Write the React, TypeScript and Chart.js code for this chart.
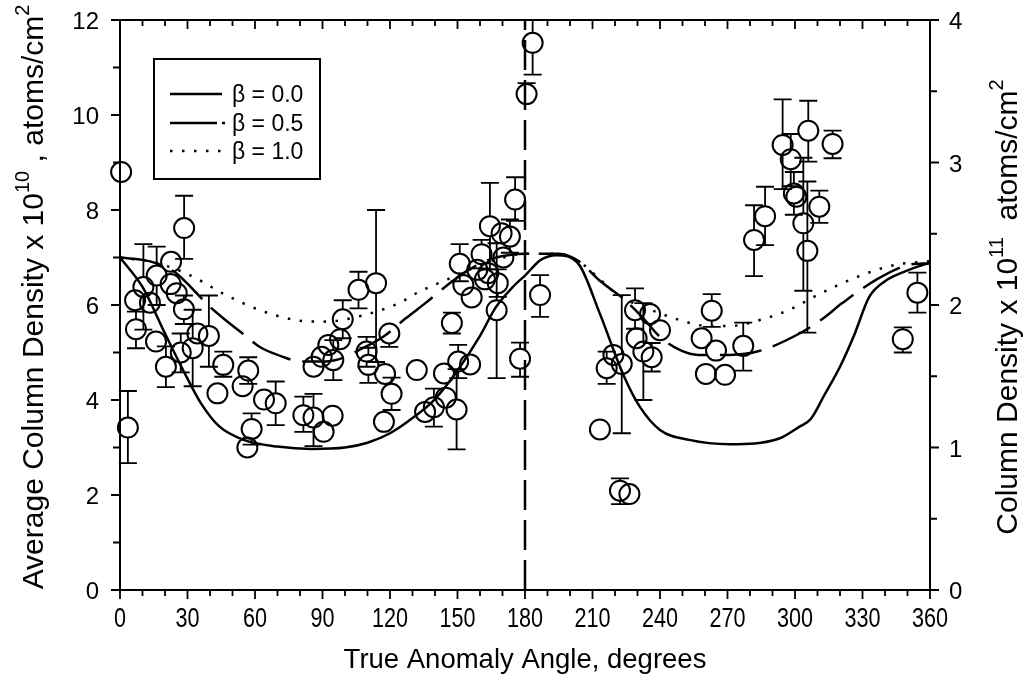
import React, { useEffect, useRef } from "react";
import { Chart, registerables } from "chart.js";
Chart.register(...registerables);

// ---------- data ----------
const pointAngles = [0.5, 3.5, 6.7, 7.1, 10.4, 13.3, 16.3, 22.7, 22.5, 25.2, 28.4, 28.5, 16, 27, 34.4, 39.5, 32.3, 20.4, 45.9, 57, 54.5, 43.3, 64, 69.2, 58.5, 56.6, 81.5, 86, 94.5, 90.5, 86, 89.6, 92.6, 94.8, 97.8, 99, 106, 113.8, 109.6, 110.4, 119.7, 117.8, 120.7, 117.3, 131.9, 135.6, 139.5, 144.8, 149.6, 144, 150.3, 155.6, 147.5, 151, 152.6, 156.3, 158.8, 162.2, 163.7, 160.7, 164.4, 169.6, 173.3, 170.4, 167.9, 167.4, 175.6, 177.8, 180.7, 183.4, 186.7, 213.3, 222.2, 226.4, 216.3, 219.3, 223, 228.9, 235.6, 240, 229.6, 232.6, 236.3, 263, 258.5, 264.9, 277, 260.4, 268.9, 281.8, 286.7, 294.5, 298.1, 299.5, 300.6, 303.7, 305.5, 305.9, 310.8, 316.7, 354.4, 347.9];
const pointValues = [8.8, 3.42, 6.1, 5.49, 6.38, 6.05, 6.62, 6.91, 6.44, 6.25, 5.91, 7.62, 5.23, 5.0, 5.4, 5.35, 5.09, 4.7, 4.74, 4.62, 4.29, 4.14, 4.01, 3.93, 3.39, 3.0, 3.68, 3.63, 3.67, 3.33, 4.7, 4.91, 5.16, 4.84, 5.28, 5.7, 6.32, 6.46, 5.02, 4.74, 5.4, 4.55, 4.13, 3.54, 4.63, 3.75, 3.85, 4.05, 3.8, 4.56, 4.81, 4.75, 5.62, 6.87, 6.42, 6.16, 6.74, 6.54, 6.67, 7.07, 7.66, 7.51, 7.44, 7.0, 6.46, 5.89, 8.22, 4.87, 10.44, 11.52, 6.21, 3.38, 2.09, 2.02, 4.67, 4.95, 4.76, 5.89, 5.81, 5.47, 5.3, 5.02, 4.9, 5.88, 5.3, 5.04, 5.14, 4.55, 4.53, 7.37, 7.87, 9.37, 9.07, 8.35, 8.28, 7.72, 7.14, 9.67, 8.07, 9.39, 6.26, 5.28];
const errLow: (number | null)[] = [null, 2.67, null, 5.09, 5.48, null, 6.0, null, null, null, 5.6, 6.97, null, 4.58, null, 4.7, 4.29, 4.27, 4.49, 4.34, null, 3.94, null, 3.47, 3.06, null, 3.33, 3.03, null, null, null, null, null, 4.42, null, 5.3, 5.93, 4.8, 4.7, 4.36, 5.12, null, 3.79, null, null, null, 3.44, null, 2.96, null, 4.46, null, 5.4, 6.5, null, null, null, null, null, 6.77, 6.75, null, 7.1, null, 6.17, 4.46, 7.77, 4.49, 10.23, 10.85, 5.75, null, 1.81, null, 4.34, null, 3.3, 5.5, null, null, null, 4.0, 4.6, 5.54, null, null, 4.62, null, null, 6.61, 7.26, 8.44, 8.5, 7.9, null, 6.3, 5.42, 9.02, 7.73, 9.09, 5.84, 5.0];
const errHigh: (number | null)[] = [null, 4.19, null, 5.86, 7.28, null, 7.23, null, null, null, 6.2, 8.3, null, 5.4, null, 6.2, 5.9, 5.13, 5.02, 4.9, null, 4.34, null, 4.39, 3.72, null, 4.07, 4.13, null, null, null, null, null, 5.26, null, 6.1, 6.7, 8.0, 5.33, 5.1, 5.61, null, 4.47, null, null, null, 4.24, null, 4.65, null, 5.16, null, 5.84, 7.28, null, null, null, null, null, 7.37, 8.57, null, 7.8, null, 6.75, 7.3, 8.69, 5.21, 10.67, 12.0, 6.63, null, 2.35, null, 5.02, null, 6.21, 6.35, null, null, null, 6.04, 5.2, 6.23, null, null, 5.63, null, null, 8.1, 8.49, 10.33, 9.6, 8.8, null, 9.1, 8.6, 10.3, 8.41, 9.67, 6.68, 5.53];

const beta0Angles = [0, 10, 20, 30, 36, 44, 55, 70, 85, 100, 110, 120, 130, 140, 150, 160, 167, 175, 180, 187, 194, 204, 213, 224, 231, 240, 253, 271, 293, 302, 307, 313, 320, 326, 333, 340, 347, 358, 360];
const beta0Values = [7.0, 6.38, 5.4, 4.45, 3.93, 3.45, 3.16, 3.02, 2.97, 3.0, 3.1, 3.3, 3.62, 4.02, 4.62, 5.35, 5.95, 6.4, 6.62, 6.95, 7.05, 6.85, 5.85, 4.5, 3.86, 3.37, 3.16, 3.07, 3.19, 3.44, 3.6, 4.1, 4.7, 5.33, 6.17, 6.5, 6.67, 6.86, 6.88];
const beta05Angles = [0, 10, 16, 25, 33, 40, 47, 55, 62, 70, 81, 91, 100, 105, 117, 127, 136, 145, 155, 165, 173, 180, 195, 204, 213, 224, 232, 240, 249, 257, 271, 284, 302, 312, 321, 336, 350, 360];
const beta05Values = [7.0, 6.95, 6.88, 6.67, 6.3, 5.96, 5.68, 5.38, 5.12, 4.95, 4.81, 4.81, 4.9, 5.02, 5.33, 5.72, 6.05, 6.4, 6.74, 6.97, 7.05, 7.08, 7.08, 6.92, 6.52, 6.12, 5.75, 5.33, 5.05, 4.95, 4.95, 5.03, 5.4, 5.7, 6.04, 6.53, 6.84, 6.88];
const beta1Angles = [0, 15, 31, 47, 64, 80, 91, 107, 124, 133, 146, 158, 169, 180, 195, 205, 212, 219, 229, 238, 249, 261, 271, 287, 298, 310, 326, 344, 360];
const beta1Values = [7.0, 6.9, 6.63, 6.21, 5.86, 5.67, 5.65, 5.77, 6.04, 6.28, 6.55, 6.8, 6.98, 7.08, 7.08, 6.88, 6.6, 6.3, 6.02, 5.86, 5.68, 5.56, 5.56, 5.72, 5.91, 6.21, 6.56, 6.84, 6.92];

const markerAngle = 180;
const xTickLabels = [0, 30, 60, 90, 120, 150, 180, 210, 240, 270, 300, 330, 360];
const leftTickLabels = [0, 2, 4, 6, 8, 10, 12];
const rightTickLabels = [0, 1, 2, 3, 4];
const legendLabels = ["β = 0.0", "β = 0.5", "β = 1.0"];

const FONT = '"Liberation Sans", Arial, Helvetica, sans-serif';
const R = 10;

type Part = { t: string; sup?: boolean };

function richWidth(ctx: CanvasRenderingContext2D, parts: Part[], size: number, supSize: number) {
  let w = 0;
  for (const p of parts) {
    ctx.font = `${p.sup ? supSize : size}px ${FONT}`;
    w += ctx.measureText(p.t).width;
  }
  return w;
}
function drawRich(ctx: CanvasRenderingContext2D, parts: Part[], x: number, y: number, size: number, supSize: number, raise: number) {
  let cx = x;
  for (const p of parts) {
    ctx.font = `${p.sup ? supSize : size}px ${FONT}`;
    ctx.fillText(p.t, cx, p.sup ? y - raise : y);
    cx += ctx.measureText(p.t).width;
  }
}

const decor = {
  id: "decor",
  afterDatasetsDraw(chart: any) {
    const { ctx, chartArea: a, scales } = chart;
    const xs = scales.x, ys = scales.y, y2s = scales.y2;
    ctx.save();
    ctx.strokeStyle = "#000";
    ctx.fillStyle = "#000";
    ctx.setLineDash([]);

    // error bars
    ctx.lineWidth = 1.8;
    for (let i = 0; i < pointAngles.length; i++) {
      const lo = errLow[i], hi = errHigh[i];
      if (lo == null || hi == null) continue;
      const px = xs.getPixelForValue(pointAngles[i]);
      const py = ys.getPixelForValue(pointValues[i]);
      const pl = ys.getPixelForValue(lo);
      const ph = Math.max(ys.getPixelForValue(hi), a.top);
      ctx.beginPath();
      if (ph < py - R) {
        ctx.moveTo(px, py - R); ctx.lineTo(px, ph);
        ctx.moveTo(px - 9, ph); ctx.lineTo(px + 9, ph);
      }
      if (pl > py + R) {
        ctx.moveTo(px, py + R); ctx.lineTo(px, pl);
        ctx.moveTo(px - 9, pl); ctx.lineTo(px + 9, pl);
      }
      ctx.stroke();
    }

    // frame
    ctx.lineWidth = 2;
    ctx.strokeRect(a.left, a.top, a.right - a.left, a.bottom - a.top);

    // ticks
    ctx.lineWidth = 1.8;
    ctx.beginPath();
    for (let v = 0; v <= 360; v += 10) {
      const px = xs.getPixelForValue(v);
      const len = v % 30 === 0 ? 9 : 6;
      ctx.moveTo(px, a.bottom); ctx.lineTo(px, a.bottom + len);
      ctx.moveTo(px, a.top); ctx.lineTo(px, a.top + len);
    }
    for (let v = 0; v <= 12; v += 1) {
      const py = ys.getPixelForValue(v);
      const len = v % 2 === 0 ? 9 : 7;
      ctx.moveTo(a.left, py); ctx.lineTo(a.left - len, py);
    }
    for (let v = 0; v <= 4; v += 0.5) {
      const py = y2s.getPixelForValue(v);
      const len = v % 1 === 0 ? 9 : 7;
      ctx.moveTo(a.right, py); ctx.lineTo(a.right + len, py);
    }
    ctx.stroke();

    // tick labels
    ctx.textBaseline = "alphabetic";
    ctx.textAlign = "center";
    ctx.font = `27px ${FONT}`;
    for (const v of xTickLabels) {
      const px = xs.getPixelForValue(v);
      ctx.save();
      ctx.translate(px, a.bottom + 37);
      ctx.scale(0.8, 1);
      ctx.fillText(String(v), 0, 0);
      ctx.restore();
    }
    ctx.font = `24px ${FONT}`;
    ctx.textAlign = "right";
    for (const v of leftTickLabels) {
      const py = ys.getPixelForValue(v);
      ctx.fillText(String(v), a.left - 21, py + 9);
    }
    ctx.textAlign = "left";
    for (const v of rightTickLabels) {
      const py = y2s.getPixelForValue(v);
      ctx.fillText(String(v), a.right + 19, py + 9);
    }

    // axis titles
    ctx.textAlign = "left";
    ctx.font = `27.5px ${FONT}`;
    const xt = "True Anomaly Angle, degrees";
    const xtw = ctx.measureText(xt).width;
    ctx.fillText(xt, (a.left + a.right) / 2 - xtw / 2, a.bottom + 78);

    const leftParts: Part[] = [
      { t: "Average Column Density x 10" },
      { t: "10", sup: true },
      { t: " , atoms/cm" },
      { t: "2", sup: true },
    ];
    const lw = richWidth(ctx, leftParts, 30, 20);
    ctx.save();
    ctx.translate(43, (a.top + a.bottom) / 2 - 8);
    ctx.rotate(-Math.PI / 2);
    drawRich(ctx, leftParts, -lw / 2, 0, 30, 20, 14);
    ctx.restore();

    const rightParts: Part[] = [
      { t: "Column Density x 10" },
      { t: "11", sup: true },
      { t: "  atoms/cm" },
      { t: "2", sup: true },
    ];
    const rw = richWidth(ctx, rightParts, 30, 20);
    ctx.save();
    ctx.translate(1017, (a.top + a.bottom) / 2 + 2);
    ctx.rotate(-Math.PI / 2);
    drawRich(ctx, rightParts, -rw / 2, 0, 30, 20, 14);
    ctx.restore();

    // legend
    const bx = 154, by = 59, bw = 166, bh = 120;
    ctx.lineWidth = 2;
    ctx.strokeRect(bx, by, bw, bh);
    const rows = [94, 123, 151];
    const dashes = [[], [47, 5, 3, 100], [2.5, 9.5]];
    ctx.font = `23px ${FONT}`;
    ctx.textAlign = "left";
    for (let i = 0; i < 3; i++) {
      ctx.lineWidth = 2.5;
      ctx.setLineDash(dashes[i]);
      ctx.beginPath();
      ctx.moveTo(170, rows[i]);
      ctx.lineTo(i === 1 ? 226 : 222, rows[i]);
      ctx.stroke();
      ctx.setLineDash([]);
      ctx.fillText(legendLabels[i], 232, rows[i] + 8);
    }
    ctx.restore();
  },
};

function toXY(xs: number[], ys: number[]) {
  return xs.map((x, i) => ({ x, y: ys[i] }));
}

export default function App() {
  const ref = useRef<HTMLCanvasElement | null>(null);
  useEffect(() => {
    if (!ref.current) return;
    const lineBase = {
      type: "line" as const,
      showLine: true,
      pointRadius: 0,
      borderColor: "#000",
      borderWidth: 2.5,
      fill: false,
      cubicInterpolationMode: "monotone" as const,
    };
    const chart = new Chart(ref.current, {
      type: "scatter",
      data: {
        datasets: [
          { ...lineBase, label: legendLabels[0], data: toXY(beta0Angles, beta0Values) },
          { ...lineBase, label: legendLabels[1], data: toXY(beta05Angles, beta05Values), borderDash: [42, 12] },
          { ...lineBase, label: legendLabels[2], data: toXY(beta1Angles, beta1Values), borderDash: [2.5, 9.5] },
          {
            type: "line" as const,
            label: "perihelion",
            data: [{ x: markerAngle, y: 0 }, { x: markerAngle, y: 12 }],
            showLine: true,
            pointRadius: 0,
            borderColor: "#000",
            borderWidth: 2.5,
            borderDash: [30, 10],
          },
          {
            type: "scatter" as const,
            label: "data",
            data: toXY(pointAngles, pointValues),
            pointRadius: R,
            pointBorderWidth: 2,
            pointBackgroundColor: "rgba(0,0,0,0)",
            pointBorderColor: "#000",
            clip: false as any,
          },
        ] as any,
      },
      options: {
        responsive: true,
        maintainAspectRatio: false,
        animation: false,
        events: [],
        layout: { padding: { top: 20, left: 0, right: 0, bottom: 0 } },
        plugins: { legend: { display: false }, tooltip: { enabled: false } },
        scales: {
          x: {
            type: "linear",
            min: 0,
            max: 360,
            position: "bottom",
            ticks: { display: false },
            grid: { display: false },
            border: { display: false },
            afterFit: (s: any) => { s.height = 108; },
          },
          y: {
            type: "linear",
            min: 0,
            max: 12,
            position: "left",
            ticks: { display: false },
            grid: { display: false },
            border: { display: false },
            afterFit: (s: any) => { s.width = 120; },
          },
          y2: {
            type: "linear",
            min: 0,
            max: 4,
            position: "right",
            ticks: { display: false },
            grid: { display: false },
            border: { display: false },
            afterFit: (s: any) => { s.width = 96; },
          },
        },
      } as any,
      plugins: [decor],
    });
    return () => chart.destroy();
  }, []);
  return (
    <div style={{ position: "absolute", left: 0, top: 0, width: 1026, height: 698, background: "#fff" }}>
      <canvas ref={ref} />
    </div>
  );
}
